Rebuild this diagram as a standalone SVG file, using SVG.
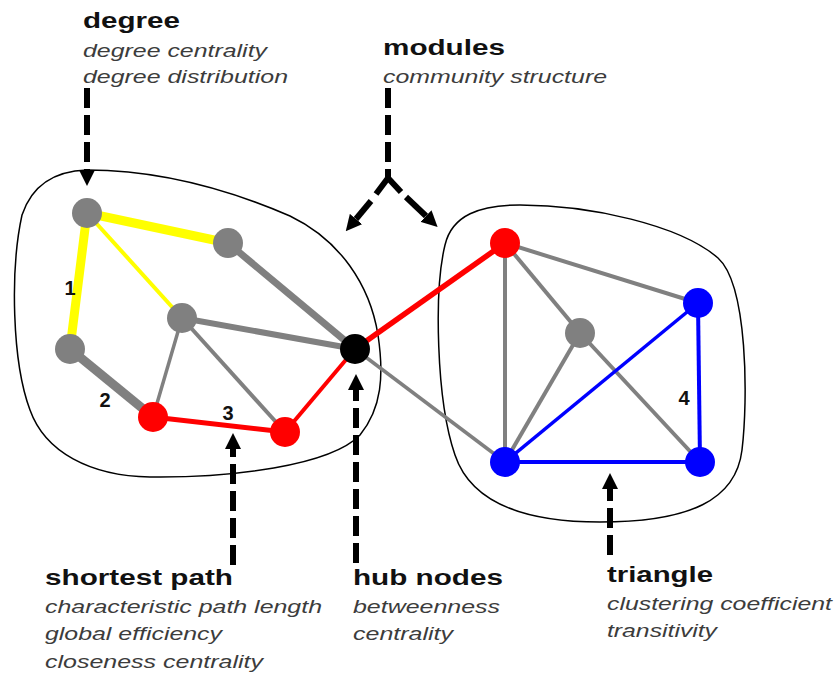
<svg xmlns="http://www.w3.org/2000/svg" width="836" height="674" viewBox="0 0 836 674">
<style>
.bg{fill:#fff}
.blob{fill:none;stroke:#000;stroke-width:1.5}
.e{stroke-linecap:butt;fill:none}
.gray{stroke:#808080}
.yel{stroke:#ffff00}
.red{stroke:#ff0000}
.blue{stroke:#0000ff}
.n{stroke:none}
.ng{fill:#808080}
.nr{fill:#ff0000}
.nb{fill:#0000ff}
.nk{fill:#000}
.arr{fill:none;stroke:#000;stroke-width:6;stroke-dasharray:20 7}
.br{fill:none;stroke:#000;stroke-width:6}
.t{font-family:"Liberation Sans",Arial,sans-serif;font-size:22px;font-weight:bold;fill:#111}
.s{font-family:"Liberation Sans",Arial,sans-serif;font-size:19px;font-style:italic;fill:#3c3c3c}
.num{font-family:"Liberation Sans",Arial,sans-serif;font-size:20px;font-weight:bold;fill:#111;text-anchor:middle}
</style>
<defs>
<marker id="ah" markerUnits="userSpaceOnUse" viewBox="0 0 16 16" markerWidth="16" markerHeight="16" refX="0" refY="8" orient="auto">
<path d="M0,0 L16,8 L0,16 Z" fill="#000"/>
</marker>
</defs>
<rect class="bg" x="0" y="0" width="836" height="674"/>

<g id="modules">
<path id="module-left" class="blob" d="M87,170 C160,170 230,190 290,216 C340,240 370,285 378,335 C384,375 382,408 360,435 C330,466 230,478 150,477 C90,476 45,452 30,410 C12,362 10,270 22,215 C32,185 55,171 87,170 Z"/>
<path id="module-right" class="blob" d="M520,205 C590,205 680,225 718,258 C748,285 748,400 742,450 C736,500 690,522 600,522 C520,522 470,500 455,455 C436,400 434,290 445,245 C452,215 480,205 520,205 Z"/>
</g>

<g id="connectors">
<line class="e yel" x1="87" y1="213" x2="228" y2="243" stroke-width="9"/>
<line class="e yel" x1="87" y1="213" x2="70" y2="349" stroke-width="9"/>
<line class="e yel" x1="87" y1="213" x2="182" y2="318" stroke-width="4"/>
<line class="e gray" x1="228" y1="243" x2="355" y2="349" stroke-width="7"/>
<line class="e gray" x1="182" y1="318" x2="355" y2="349" stroke-width="6"/>
<line class="e gray" x1="182" y1="318" x2="153" y2="417" stroke-width="3.5"/>
<line class="e gray" x1="182" y1="318" x2="285" y2="432" stroke-width="4"/>
<line class="e gray" x1="70" y1="349" x2="153" y2="417" stroke-width="9"/>
<line class="e red" x1="153" y1="417" x2="285" y2="432" stroke-width="5"/>
<line class="e red" x1="285" y1="432" x2="355" y2="349" stroke-width="4"/>
<line class="e red" x1="355" y1="349" x2="505" y2="243" stroke-width="5.5"/>
<line class="e gray" x1="355" y1="349" x2="505" y2="462" stroke-width="3.5"/>
<line class="e gray" x1="505" y1="243" x2="505" y2="462" stroke-width="4"/>
<line class="e gray" x1="505" y1="243" x2="580" y2="333" stroke-width="4"/>
<line class="e gray" x1="505" y1="243" x2="698" y2="303" stroke-width="4"/>
<line class="e gray" x1="580" y1="333" x2="505" y2="462" stroke-width="4"/>
<line class="e gray" x1="580" y1="333" x2="700" y2="462" stroke-width="4"/>
<line class="e blue" x1="505" y1="462" x2="698" y2="303" stroke-width="3.5"/>
<line class="e blue" x1="698" y1="303" x2="700" y2="462" stroke-width="4"/>
<line class="e blue" x1="505" y1="462" x2="700" y2="462" stroke-width="4"/>
</g>

<g id="node-a"><circle class="n ng" cx="87" cy="213" r="15"/></g>
<g id="node-b"><circle class="n ng" cx="228" cy="243" r="15"/></g>
<g id="node-c"><circle class="n ng" cx="182" cy="318" r="15"/></g>
<g id="node-d"><circle class="n ng" cx="70" cy="349" r="15"/></g>
<g id="node-e"><circle class="n nr" cx="153" cy="417" r="15"/></g>
<g id="node-f"><circle class="n nr" cx="285" cy="432" r="15"/></g>
<g id="node-hub"><circle class="n nk" cx="355" cy="349" r="15"/></g>
<g id="node-r"><circle class="n nr" cx="505" cy="243" r="15"/></g>
<g id="node-g"><circle class="n ng" cx="580" cy="333" r="15"/></g>
<g id="node-b1"><circle class="n nb" cx="698" cy="303" r="15"/></g>
<g id="node-b2"><circle class="n nb" cx="505" cy="462" r="15"/></g>
<g id="node-b3"><circle class="n nb" cx="700" cy="462" r="15"/></g>

<g id="edge-labels">
<text class="num" x="70" y="295">1</text>
<text class="num" x="105" y="407">2</text>
<text class="num" x="228" y="420">3</text>
<text class="num" x="684" y="405">4</text>
</g>

<g id="arrows">
<path class="arr" d="M87,88 L87,170" marker-end="url(#ah)"/>
<path class="arr" d="M388,88 L388,178"/>
<path class="br" d="M388,178 L376,194"/>
<path class="br" d="M371,201 L356,219" marker-end="url(#ah)"/>
<path class="br" d="M388,178 L401,192"/>
<path class="br" d="M406,197 L426,216" marker-end="url(#ah)"/>
<path class="arr" d="M233,565 L233,449" marker-end="url(#ah)"/>
<path class="arr" d="M356,563 L356,390" marker-end="url(#ah)"/>
<path class="arr" d="M610,555 L610,489" marker-end="url(#ah)"/>
</g>

<g id="label-degree">
<text class="t" x="83" y="28" textLength="97" lengthAdjust="spacingAndGlyphs">degree</text>
<text class="s" x="83" y="57" textLength="184" lengthAdjust="spacingAndGlyphs">degree centrality</text>
<text class="s" x="83" y="83" textLength="205" lengthAdjust="spacingAndGlyphs">degree distribution</text>
</g>
<g id="label-modules">
<text class="t" x="383" y="55" textLength="122" lengthAdjust="spacingAndGlyphs">modules</text>
<text class="s" x="383" y="83" textLength="224" lengthAdjust="spacingAndGlyphs">community structure</text>
</g>
<g id="label-shortest">
<text class="t" x="45" y="585" textLength="188" lengthAdjust="spacingAndGlyphs">shortest path</text>
<text class="s" x="45" y="613" textLength="277" lengthAdjust="spacingAndGlyphs">characteristic path length</text>
<text class="s" x="45" y="640" textLength="177" lengthAdjust="spacingAndGlyphs">global efficiency</text>
<text class="s" x="45" y="668" textLength="218" lengthAdjust="spacingAndGlyphs">closeness centrality</text>
</g>
<g id="label-hub">
<text class="t" x="353" y="585" textLength="150" lengthAdjust="spacingAndGlyphs">hub nodes</text>
<text class="s" x="353" y="613" textLength="147" lengthAdjust="spacingAndGlyphs">betweenness</text>
<text class="s" x="353" y="640" textLength="100" lengthAdjust="spacingAndGlyphs">centrality</text>
</g>
<g id="label-triangle">
<text class="t" x="607" y="582" textLength="106" lengthAdjust="spacingAndGlyphs">triangle</text>
<text class="s" x="607" y="610" textLength="225" lengthAdjust="spacingAndGlyphs">clustering coefficient</text>
<text class="s" x="607" y="637" textLength="110" lengthAdjust="spacingAndGlyphs">transitivity</text>
</g>
</svg>
